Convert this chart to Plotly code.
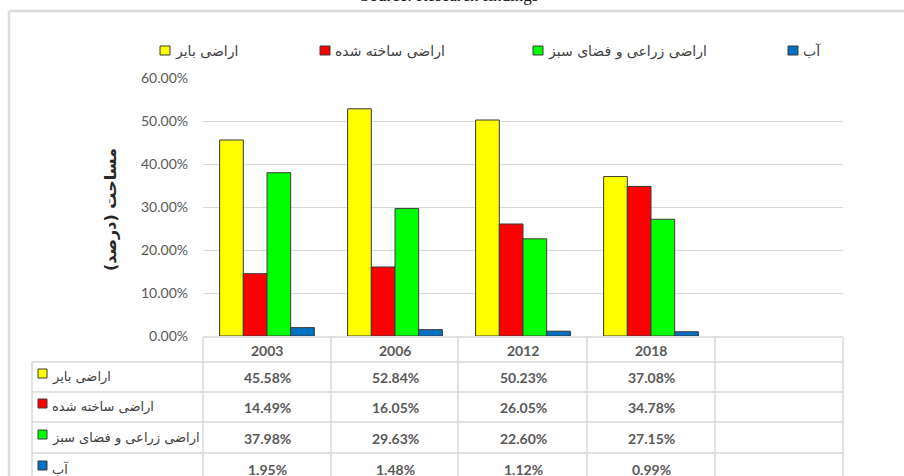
import plotly.graph_objects as go

# ---------------- data ----------------
years = ["2003", "2006", "2012", "2018"]
series_names = ["اراضی بایر", "اراضی ساخته شده", "اراضی زراعی و فضای سبز", "آب"]
barren = [45.58, 52.84, 50.23, 37.08]
built = [14.49, 16.05, 26.05, 34.78]
agri = [37.98, 29.63, 22.60, 27.15]
water = [1.95, 1.48, 1.12, 0.99]
series_values = [barren, built, agri, water]
colors = ["#FFFF00", "#FF0000", "#00FF00", "#0070C0"]
yticks = [0, 10, 20, 30, 40, 50, 60]
y_title = "مساحت (درصد)"
source_text = "Source: Research findings"

# ---------------- layout constants ----------------
W, H = 904, 476
L, R, T, B = 203, 843, 78, 336


def px(x):
    return (x - L) / (R - L)


def py(y):
    return (B - y) / (B - T)


LAT = "Lato, Carlito, Calibri, 'DejaVu Sans', sans-serif"
FA = "Tahoma, 'DejaVu Sans', sans-serif"
GRID = "#d9d9d9"

fig = go.Figure()
for name, vals, col in zip(series_names, series_values, colors):
    fig.add_trace(go.Bar(
        x=list(range(len(years))), y=vals, name=name,
        marker=dict(color=col, line=dict(color="#3a3a3a", width=1)),
        showlegend=False, hoverinfo="y+name",
    ))

shapes = []
annotations = []

# outer chart border
shapes.append(dict(type="line", xref="paper", yref="paper", x0=px(9), x1=px(910),
                   y0=py(11), y1=py(11), line=dict(color="#dcdcdc", width=2.5)))
shapes.append(dict(type="line", xref="paper", yref="paper", x0=px(9), x1=px(9),
                   y0=py(11), y1=py(480), line=dict(color="#dcdcdc", width=2.5)))

# source line (clipped at top)
annotations.append(dict(text=source_text, xref="paper", yref="paper", x=px(449), y=py(7),
                        xanchor="center", yanchor="bottom", showarrow=False,
                        font=dict(family="'Liberation Serif', 'Times New Roman', serif", size=17, color="#111111")))

# top legend
legend_keys = [160, 320, 533, 788]
for name, col, kx in zip(series_names, colors, legend_keys):
    shapes.append(dict(type="rect", xref="paper", yref="paper", x0=px(kx), x1=px(kx + 10),
                       y0=py(46), y1=py(55), fillcolor=col, line=dict(color="#3a3a3a", width=1)))
    annotations.append(dict(text=name, xref="paper", yref="paper", x=px(kx + 13), y=py(51),
                            xanchor="left", yanchor="middle", showarrow=False,
                            font=dict(family=FA, size=14, color="#404040")))

# y axis title
annotations.append(dict(text="<b>" + y_title + "</b>", xref="paper", yref="paper", x=px(110), y=py(210),
                        xanchor="center", yanchor="middle", textangle=-90, showarrow=False,
                        font=dict(family=FA, size=16, color="#262626")))

# data table
col_edges = [203, 331, 458, 587, 715, 843]
row_lines = [362, 392, 422, 453]
row_centers = [377, 407, 438, 469]
shapes.append(dict(type="line", xref="paper", yref="paper", x0=px(203), x1=px(843),
                   y0=py(337), y1=py(337), line=dict(color=GRID, width=1.5)))
for yl in row_lines:
    shapes.append(dict(type="line", xref="paper", yref="paper", x0=px(32), x1=px(843),
                       y0=py(yl), y1=py(yl), line=dict(color=GRID, width=1.5)))
for xe in col_edges:
    shapes.append(dict(type="line", xref="paper", yref="paper", x0=px(xe), x1=px(xe),
                       y0=py(337), y1=py(480), line=dict(color=GRID, width=1.5)))
shapes.append(dict(type="line", xref="paper", yref="paper", x0=px(32), x1=px(32),
                   y0=py(362), y1=py(480), line=dict(color=GRID, width=1.5)))

for i, yr in enumerate(years):
    annotations.append(dict(text="<b>" + yr + "</b>", xref="x", yref="paper", x=i, y=py(350),
                            xanchor="center", yanchor="middle", showarrow=False,
                            font=dict(family=LAT, size=14, color="#595959")))

for r, (name, vals, col) in enumerate(zip(series_names, series_values, colors)):
    yc = row_centers[r]
    shapes.append(dict(type="rect", xref="paper", yref="paper", x0=px(38), x1=px(47),
                       y0=py(yc - 8), y1=py(yc + 1), fillcolor=col, line=dict(color="#3a3a3a", width=1)))
    annotations.append(dict(text=name, xref="paper", yref="paper", x=px(50), y=py(yc),
                            xanchor="left", yanchor="middle", showarrow=False,
                            font=dict(family=FA, size=13, color="#404040")))
    for i, v in enumerate(vals):
        annotations.append(dict(text="<b>%.2f%%</b>" % v, xref="x", yref="paper", x=i, y=py(yc),
                                xanchor="center", yanchor="middle", showarrow=False,
                                font=dict(family=LAT, size=14, color="#595959")))

fig.update_layout(
    width=W, height=H,
    margin=dict(l=L, r=W - R, t=T, b=H - B, pad=0),
    paper_bgcolor="white", plot_bgcolor="white",
    barmode="group", bargap=0.26, bargroupgap=0,
    shapes=shapes, annotations=annotations,
    showlegend=False,
)
fig.update_xaxes(type="linear", range=[-0.5, 4.5], showticklabels=False, showgrid=False,
                 zeroline=False, showline=False, fixedrange=True)
fig.update_yaxes(range=[0, 60], tickvals=yticks, ticktext=["%.2f%%" % v for v in yticks],
                 showgrid=True, gridcolor=GRID, gridwidth=1, zeroline=False, showline=False,
                 ticks="", ticklabelstandoff=14,
                 tickfont=dict(family=LAT, size=14, color="#595959"))

fig.write_html("out.html", config={"displayModeBar": False},
               post_script="document.body.style.margin='0';document.body.style.overflow='hidden';")
